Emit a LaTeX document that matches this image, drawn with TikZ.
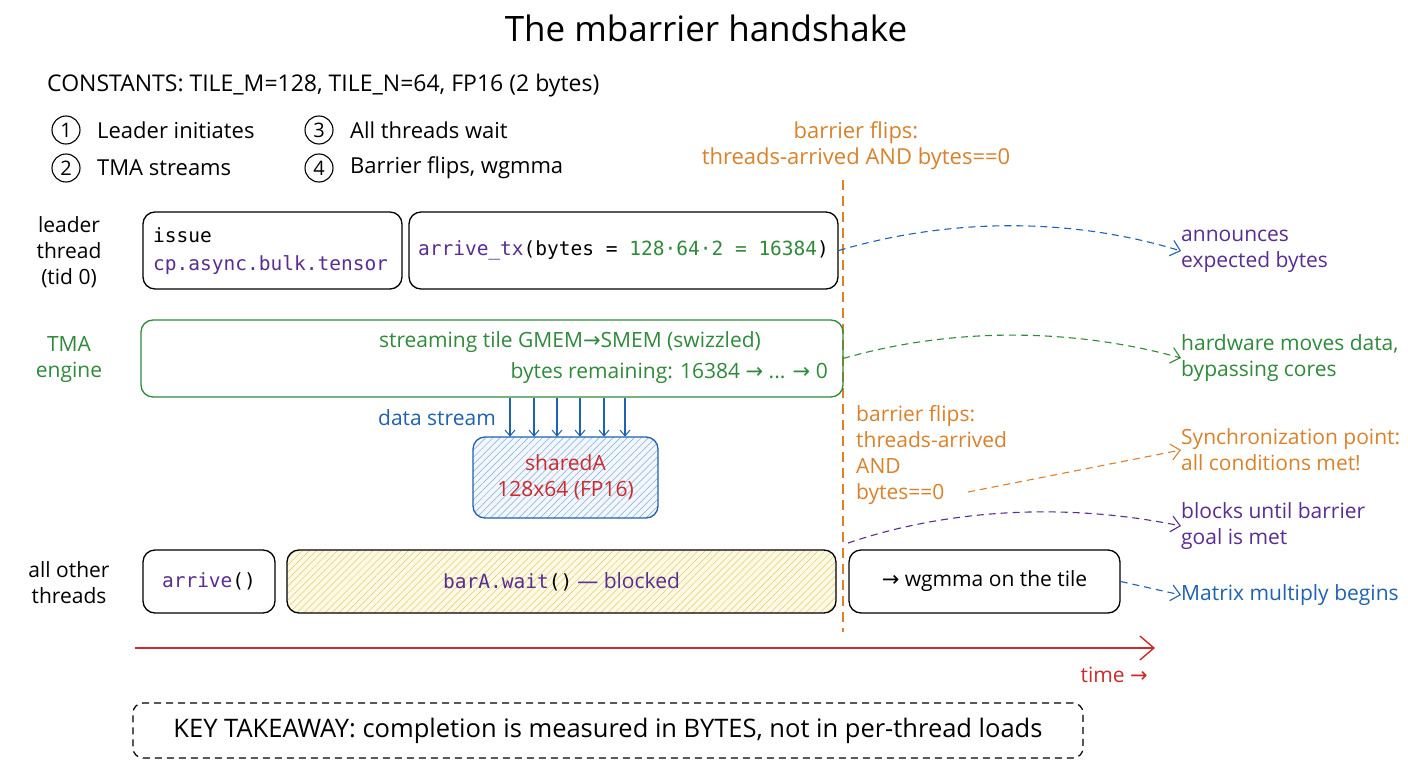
\documentclass[tikz,border=0pt]{standalone}
\usepackage{fontspec}
\setmainfont{Open Sans}
\setmonofont{DejaVu Sans Mono}
\newfontfamily\symf{DejaVu Sans}
\usetikzlibrary{arrows.meta,patterns.meta,calc}
\definecolor{purp}{RGB}{90,45,145}
\definecolor{grn}{RGB}{47,138,59}
\definecolor{blu}{RGB}{31,98,176}
\definecolor{org}{RGB}{217,130,43}
\definecolor{redc}{RGB}{204,43,43}
\definecolor{yelh}{RGB}{226,205,110}
\definecolor{yelf}{RGB}{253,249,228}
\definecolor{bluh}{RGB}{130,170,215}
\definecolor{bluf}{RGB}{242,247,253}
\newcommand{\myarr}{{\symf →}}
\begin{document}
\begin{tikzpicture}[x=1pt,y=-1pt,
  txt/.style={inner sep=0pt,font=\fontsize{21}{26}\selectfont},
  mono/.style={inner sep=0pt,font=\fontsize{19.5}{28}\selectfont\ttfamily},
  box/.style={draw,rounded corners=12pt,line width=1.3pt,inner sep=0pt},
  num/.style={circle,draw,line width=1.1pt,minimum size=28pt,inner sep=0pt,font=\fontsize{20}{24}\selectfont},
  tip/.style={-{Straight Barb[length=9pt,width=16pt,line width=1.1pt]}},
  dsh/.style={dashed,dash pattern=on 7pt off 5pt,line width=1.1pt}]
\useasboundingbox (0,0) rectangle (1408,768);
\fill[white] (0,0) rectangle (1408,768);

% title and constants
\node[txt,font=\fontsize{35}{40}\selectfont] (title) at (706,28) {The mbarrier handshake};
\node[txt,anchor=west,font=\fontsize{23}{26}\selectfont] (const) at (47,86) {CONSTANTS: TILE\_M=128, TILE\_N=64, FP16 (2 bytes)};

% legend
\node[num] (n1) at (66,130) {1};
\node[txt,anchor=west,font=\fontsize{22}{26}\selectfont] (l1) at (97,130) {Leader initiates};
\node[num] (n2) at (66,168) {2};
\node[txt,anchor=west,font=\fontsize{22}{26}\selectfont] (l2) at (97,168) {TMA streams};
\node[num] (n3) at (319,130) {3};
\node[txt,anchor=west,font=\fontsize{22}{26}\selectfont] (l3) at (350,130) {All threads wait};
\node[num] (n4) at (319,168) {4};
\node[txt,anchor=west,font=\fontsize{22}{26}\selectfont] (l4) at (350,168) {Barrier flips, wgmma};

% barrier line
\node[txt,text=org,align=center,font=\fontsize{22}{26}\selectfont] (flip1) at (856,146) {barrier flips:\\threads-arrived AND bytes==0};
\coordinate (vtop) at (843,180);
\coordinate (vbot) at (843,632);
\draw[dsh,org,line width=1.4pt,dash pattern=on 10pt off 6pt] (vtop) -- (vbot);

% leader thread row
\node[txt,align=center] (lead) at (69,252) {leader\\thread\\(tid 0)};
\node[box,minimum width=259pt,minimum height=77pt] (issue) at (272.5,250.5) {};
\node[mono,anchor=west,align=left] (issuet) at (153,251) {issue\\\textcolor{purp}{cp.async.bulk.tensor}};
\node[box,minimum width=429pt,minimum height=77pt,mono] (arrtx) at (623.5,250.5)
  {\textcolor{purp}{arrive\_tx}(bytes = \textcolor{grn}{128·64·2 = 16384})};
\node[txt,anchor=west,align=left,text=purp] (ann) at (1181,251) {announces\\expected bytes};
\draw[dsh,blu,tip] (arrtx.east) .. controls (960,215) and (1080,220) .. (ann.west);

% TMA row
\node[txt,align=center,text=grn] (tmal) at (69,359) {TMA\\engine};
\node[box,draw=grn,minimum width=702pt,minimum height=77pt] (tma) at (492,358.5) {};
\node[txt,text=grn] (tma1) at (570,342) {streaming tile GMEM\myarr SMEM (swizzled)};
\node[txt,text=grn,anchor=east] (tma2) at (828,373) {bytes remaining: 16384 \myarr\ ... \myarr\ 0};
\node[txt,anchor=west,align=left,text=grn] (hw) at (1181,358) {hardware moves data,\\bypassing cores};
\draw[dsh,grn,tip] (vtop |- tma.east) .. controls (960,325) and (1080,330) .. (hw.west);

% data stream into sharedA
\node[box,draw=blu,minimum width=185pt,minimum height=81pt,
  preaction={fill=bluf},pattern={Lines[angle=45,distance=5pt,line width=0.5pt]},pattern color=bluh,
  align=center,txt,text=redc] (shA) at (565.5,477.5) {sharedA\\128x64 (FP16)};
\foreach \x in {510,534,557,580,604,625}{
  \coordinate (ds\x) at (\x,0);
  \draw[blu,line width=1.1pt,-{Straight Barb[length=6pt,width=10pt,line width=1pt]}] (ds\x |- tma.south) -- (ds\x |- shA.north);
}
\node[txt,text=blu,anchor=east] (dsl) at (496,418) {data stream};

% barrier flip condition
\node[txt,text=org,anchor=north west,align=left] (flip2) at (856,405) {barrier flips:\\threads-arrived\\AND\\bytes==0};
\node[txt,anchor=west,align=left,text=org] (sync) at (1181,450) {Synchronization point:\\all conditions met!};
\coordinate (flipend) at (968,492);
\draw[dsh,org,tip] (flipend) -- (sync.west);

% other threads row
\node[txt,align=center] (oth) at (69,583) {all other\\threads};
\node[box,minimum width=132pt,minimum height=63pt,mono] (arr) at (209,581.5) {\textcolor{purp}{arrive}()};
\node[box,minimum width=549pt,minimum height=63pt,
  preaction={fill=yelf},pattern={Lines[angle=45,distance=5pt,line width=0.5pt]},pattern color=yelh] (wait) at (561.5,581.5) {};
\node[inner sep=0pt] (waitt) at (wait.center) {\fontsize{19.5}{24}\selectfont\texttt{\textcolor{purp}{barA.wait}()}\ \textcolor{purp}{\fontsize{21}{24}\selectfont — blocked}};
\node[box,minimum width=271pt,minimum height=63pt,txt] (wg) at (984.5,581.5) {\myarr\ wgmma on the tile};
\node[txt,anchor=west,align=left,text=purp] (blk) at (1181,526) {blocks until barrier\\goal is met};
\coordinate (blkstart) at (848,543);
\draw[dsh,purp,tip] (blkstart) .. controls (960,505) and (1080,505) .. (blk.west);
\node[txt,anchor=west,text=blu] (mm) at (1181,595) {Matrix multiply begins};
\draw[dsh,blu,tip] (wg.east) -- (mm.west);

% time axis
\coordinate (t0) at (135,648);
\coordinate (t1) at (1155,648);
\draw[redc,line width=1.6pt,-{Straight Barb[length=14pt,width=24pt,line width=1.4pt]}] (t0) -- (t1);
\node[txt,text=redc,anchor=east] (time) at (1148,675) {time \myarr};

% takeaway
\node[draw,dashed,dash pattern=on 7pt off 5pt,rounded corners=10pt,line width=1.2pt,
  minimum width=950pt,minimum height=55pt,txt,font=\fontsize{25.5}{28}\selectfont] (take) at (608,730.5)
  {KEY TAKEAWAY: completion is measured in BYTES, not in per-thread loads};
\end{tikzpicture}
\end{document}
